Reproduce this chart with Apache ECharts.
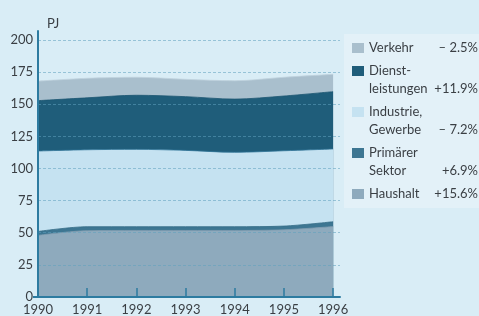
<!DOCTYPE html>
<html>
<head>
<meta charset="utf-8">
<script src="https://cdn.jsdelivr.net/npm/echarts@6/dist/echarts.min.js"></script>
<style>
    html, body { margin: 0; padding: 0; background: #d9edf6; }
    #chart { width: 479px; height: 316px; }
</style>
</head>
<body>
<div id="chart"></div>
<script>
'use strict';

// years on the x axis
const arrYears = [1990, 1991, 1992, 1993, 1994, 1995, 1996];

// PJ per sector, stacked bottom -> top
const arrHaushalt = [48.0, 51.6, 51.8, 51.8, 51.8, 52.3, 54.8];
const arrPrimaer = [3.0, 3.1, 2.9, 2.9, 2.9, 2.9, 3.8];
const arrIndustrie = [62.6, 59.9, 60.2, 59.4, 57.9, 58.6, 56.6];
const arrDienst = [39.2, 40.4, 42.1, 41.8, 41.4, 42.6, 44.6];
const arrVerkehr = [15.2, 15.2, 14.0, 13.5, 14.3, 14.6, 13.5];

const arrYTicks = [0, 25, 50, 75, 100, 125, 150, 175, 200];

// legend, top -> bottom
const arrLegendName = ['Verkehr', 'Dienst-\nleistungen', 'Industrie,\nGewerbe', 'Primärer\nSektor', 'Haushalt'];
const arrLegendChange = ['\u2013 2.5%', '+11.9%', '\u2013 7.2%', '+6.9%', '+15.6%'];

const hshColor = {
    haushalt: '#8eaabd',
    primaer: '#3d7692',
    industrie: '#c5e2f1',
    dienst: '#1f5d7a',
    verkehr: '#a9bfcd'
};
const arrLegendColor = [hshColor.verkehr, hshColor.dienst, hshColor.industrie, hshColor.primaer, hshColor.haushalt];

const FONT = 'Lato';
const TEXT_COLOR = '#3a3f44';
const AXIS_COLOR = '#2d7ba0';

const echartsArea = echarts.init(document.getElementById('chart'));

// x is a value axis, so the stack is summed here; areas are drawn top layer first
const arrLayers = [
    { name: 'Haushalt', data: arrHaushalt, color: hshColor.haushalt, line: '#7f9cb0' },
    { name: 'Primärer Sektor', data: arrPrimaer, color: hshColor.primaer, line: '#356c87' },
    { name: 'Industrie, Gewerbe', data: arrIndustrie, color: hshColor.industrie, line: '#2f7397' },
    { name: 'Dienstleistungen', data: arrDienst, color: hshColor.dienst, line: '#1c5571' },
    { name: 'Verkehr', data: arrVerkehr, color: hshColor.verkehr, line: '#c0d3de' }
];
let arrSum = arrYears.map(() => 0);
const arrSeries = arrLayers.map(layer => {
    arrSum = arrSum.map((s, i) => s + layer.data[i]);
    return {
        name: layer.name,
        type: 'line',
        smooth: 0.3,
        symbol: 'none',
        lineStyle: { width: 0.8, color: layer.line },
        areaStyle: { color: layer.color, opacity: 1 },
        itemStyle: { color: layer.color },
        data: arrYears.map((y, i) => [y, arrSum[i]])
    };
}).reverse();

// legend graphic
const arrGraphic = [{
    type: 'rect',
    shape: { x: 344, y: 34, width: 135, height: 174 },
    style: { fill: '#e3f1f8' }
}, {
    // short stub of the x axis left of the y axis
    type: 'line',
    shape: { x1: 33, y1: 297, x2: 38, y2: 297 },
    style: { stroke: AXIS_COLOR, lineWidth: 2 }
}];
let yLine = 48;
arrLegendName.forEach((name, i) => {
    const nLine = name.split('\n').length;
    arrGraphic.push({
        type: 'rect',
        shape: { x: 352, y: yLine - 5, width: 12, height: 10 },
        style: { fill: arrLegendColor[i] }
    });
    arrGraphic.push({
        type: 'text',
        x: 369,
        y: yLine - 9,
        style: {
            text: name,
            font: `13px ${FONT}`,
            fill: TEXT_COLOR,
            lineHeight: 18,
            verticalAlign: 'top'
        }
    });
    arrGraphic.push({
        type: 'text',
        x: 478,
        y: yLine - 9 + (nLine - 1) * 18,
        style: {
            text: arrLegendChange[i],
            font: `13px ${FONT}`,
            fill: TEXT_COLOR,
            align: 'right',
            lineHeight: 18,
            verticalAlign: 'top'
        }
    });
    yLine += (nLine - 1) * 18 + 23;
});

const optionArea = {
    backgroundColor: '#d9edf6',
    animation: false,
    title: {
        text: 'PJ',
        left: 42,
        top: 12,
        textStyle: { fontFamily: FONT, fontSize: 13, fontWeight: 'normal', color: TEXT_COLOR }
    },
    grid: {
        left: 38,
        right: 139,
        top: 31,
        bottom: 19,
        containLabel: false
    },
    xAxis: {
        type: 'value',
        min: 1990,
        max: 1996.14,
        interval: 1,
        z: 5,
        axisLine: { lineStyle: { color: AXIS_COLOR, width: 2 } },
        axisTick: {
            inside: true,
            length: 9,
            customValues: arrYears,
            lineStyle: { color: AXIS_COLOR, width: 1.5 }
        },
        axisLabel: {
            customValues: arrYears,
            margin: 6,
            fontFamily: FONT,
            fontSize: 13,
            color: TEXT_COLOR,
            formatter: v => String(v)
        },
        splitLine: { show: false }
    },
    yAxis: {
        type: 'value',
        min: 0,
        max: 207,
        interval: 25,
        z: 5,
        axisLine: { show: true, lineStyle: { color: AXIS_COLOR, width: 2 } },
        axisTick: { show: false },
        axisLabel: {
            customValues: arrYTicks,
            margin: 5,
            fontFamily: FONT,
            fontSize: 13,
            color: TEXT_COLOR
        },
        splitLine: {
            show: true,
            showMinLine: false,
            showMaxLine: false,
            lineStyle: { color: 'rgba(95,160,190,0.55)', width: 1, type: [3, 2] }
        }
    },
    series: arrSeries,
    graphic: arrGraphic
};

echartsArea.setOption(optionArea);
</script>
</body>
</html>
